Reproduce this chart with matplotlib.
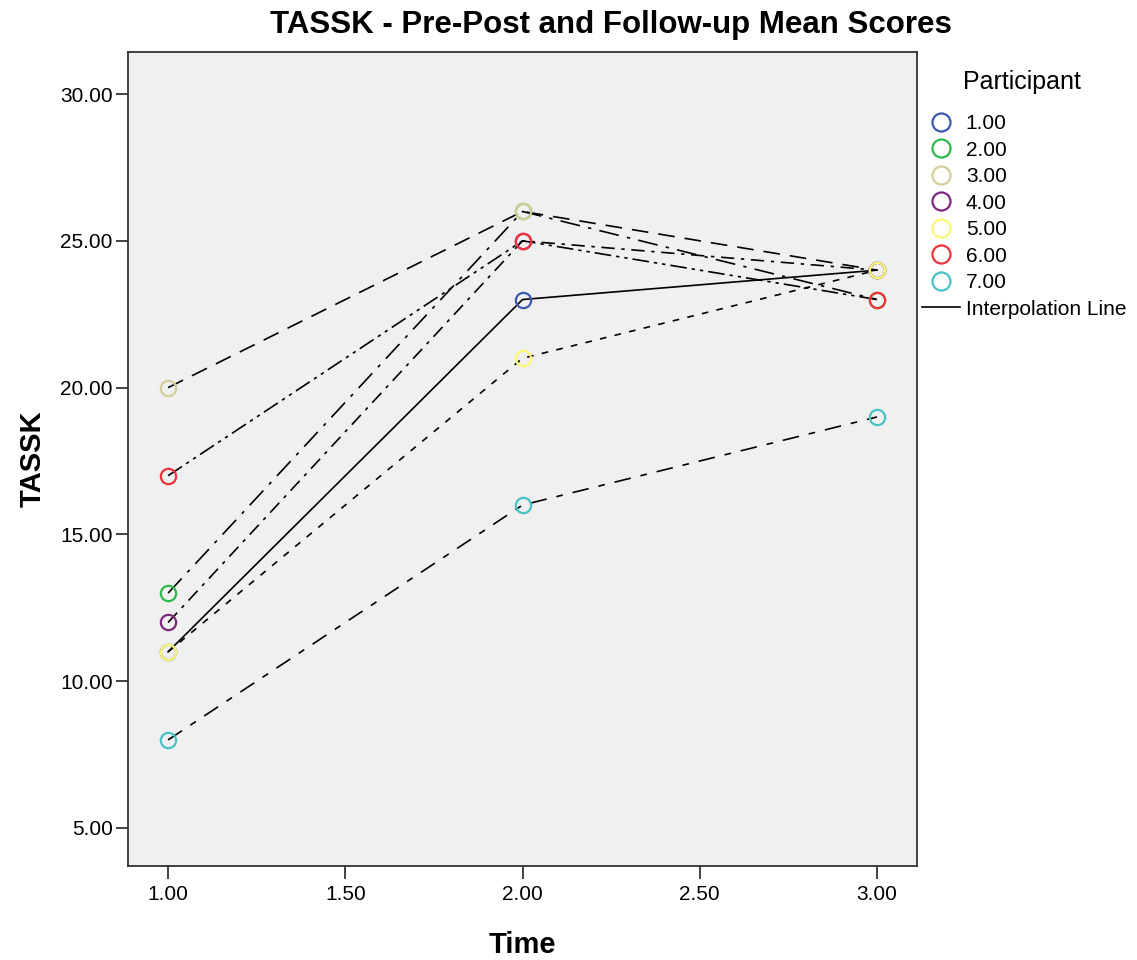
import matplotlib

matplotlib.use("Agg")

import matplotlib.pyplot as plt
from matplotlib.lines import Line2D

plt.rcParams["font.family"] = ["Liberation Sans", "DejaVu Sans"]

# data
times = [1.0, 2.0, 3.0]
participants = ["1.00", "2.00", "3.00", "4.00", "5.00", "6.00", "7.00"]
p1_scores = [11, 23, 24]
p2_scores = [13, 26, 23]
p3_scores = [20, 26, 24]
p4_scores = [12, 25, 24]
p5_scores = [11, 21, 24]
p6_scores = [17, 25, 23]
p7_scores = [8, 16, 19]
all_scores = [p1_scores, p2_scores, p3_scores, p4_scores, p5_scores, p6_scores, p7_scores]

x_ticks = [1.0, 1.5, 2.0, 2.5, 3.0]
y_ticks = [5, 10, 15, 20, 25, 30]

colors = ["#3E58AC", "#2EB848", "#D3CE97", "#7C287D", "#FBF873", "#EF3338", "#48C2C5"]
dashes = [
    "-",
    (0, (12, 5, 2, 5)),
    (0, (10, 6)),
    (0, (8, 4, 2, 4)),
    (0, (4, 5)),
    (0, (10, 3, 2, 3, 2, 3)),
    (0, (10, 6, 4, 6)),
]

fig = plt.figure(figsize=(11.37, 9.6), dpi=100)
ax = fig.add_axes([0.1126, 0.0979, 0.694, 0.8479])
ax.set_facecolor("#F0F0F0")

for scores, ls in zip(all_scores, dashes):
    ax.plot(times, scores, color="black", linestyle=ls, linewidth=1.2, zorder=2)

for scores, color in zip(all_scores, colors):
    ax.plot(times, scores, linestyle="none", marker="o", markersize=11,
            markerfacecolor="none", markeredgecolor=color, markeredgewidth=1.6, zorder=3)

ax.set_xlim(0.887, 3.113)
ax.set_ylim(3.705, 31.43)
ax.set_xticks(x_ticks)
ax.set_yticks(y_ticks)
ax.set_xticklabels([f"{v:.2f}" for v in x_ticks], fontsize=15)
ax.set_yticklabels([f"{v:.2f}" for v in y_ticks], fontsize=15)
ax.tick_params(direction="out", length=9, width=1.3, color="#333333", pad=2)
ax.tick_params(axis="x", pad=5)
for spine in ax.spines.values():
    spine.set_color("#333333")
    spine.set_linewidth(1.3)

ax.set_xlabel("Time", fontsize=21, fontweight="bold", labelpad=19)
ax.set_ylabel("TASSK", fontsize=21, fontweight="bold", labelpad=10)
fig.suptitle("TASSK - Pre-Post and Follow-up Mean Scores", fontsize=22.5,
             fontweight="bold", x=0.537, y=0.99)

handles = [
    Line2D([], [], linestyle="none", marker="o", markersize=13, markerfacecolor="none",
           markeredgecolor=c, markeredgewidth=1.6)
    for c in colors
]
handles.append(Line2D([], [], color="black", linewidth=1.2))
labels = participants + ["Interpolation Line"]
fig.text(0.847, 0.915, "Participant", fontsize=18, ha="left", va="center")
fig.legend(handles, labels, loc="upper left", bbox_to_anchor=(0.811, 0.881),
           frameon=False, fontsize=15, handlelength=1.8, handletextpad=0.3,
           labelspacing=0.36, borderaxespad=0, borderpad=0)

fig.savefig("out.png", dpi=100)
